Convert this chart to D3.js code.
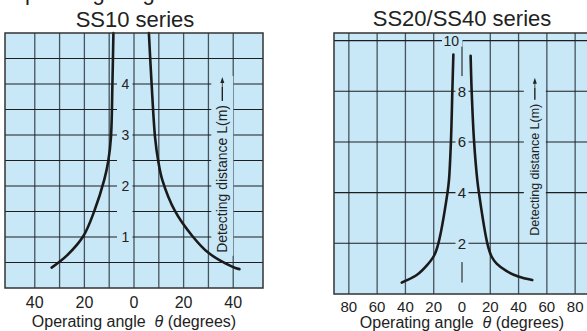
<!DOCTYPE html>
<html>
<head>
<meta charset="utf-8">
<script src="https://cdn.jsdelivr.net/npm/d3@7"></script>
<style>
body { margin: 0; background: #fff; }
text { font-family: "Liberation Sans", Arial, sans-serif; fill: #222; }
</style>
</head>
<body>
<div id="chart"></div>
<script>
// SS10 series
const ss10AngleTicks = [-40, -20, 0, 20, 40];
const ss10GridX = [-40, -30, -20, -10, 0, 10, 20, 30, 40];
const ss10GridY = [0.5, 1, 1.5, 2, 2.5, 3, 3.5, 4, 4.5];
const ss10DistLabels = [1, 2, 3, 4];
const ss10LeftAngle = [-8.3, -8.7, -9.3, -10.4, -12.0, -16.0, -20.4, -27, -33.2];
const ss10LeftDist = [5.0, 4.0, 2.95, 2.48, 2.12, 1.51, 1.02, 0.64, 0.40];
const ss10RightAngle = [6.0, 7.1, 8.5, 9.8, 11.4, 16.5, 23.5, 30, 40, 42.5];
const ss10RightDist = [5.0, 4.0, 2.95, 2.48, 2.12, 1.51, 1.02, 0.69, 0.41, 0.37];

// SS20/SS40 series
const ss40AngleTicks = [-80, -60, -40, -20, 0, 20, 40, 60, 80];
const ss40GridX = [-80, -60, -40, -20, 20, 40, 60, 80];
const ss40GridY = [2, 4, 6, 8, 10];
const ss40DistLabels = [2, 4, 6, 8];
const ss40LeftAngle = [-6.1, -6.8, -7.8, -9.2, -10.3, -16.7, -19.8, -25, -32, -42.6];
const ss40LeftDist = [9.45, 8.06, 6.05, 4.5, 3.98, 2.0, 1.51, 1.12, 0.75, 0.45];
const ss40RightAngle = [6.1, 6.8, 8.5, 10.8, 12.0, 17.9, 21, 24.5, 31.6, 39.8, 49.7];
const ss40RightDist = [9.4, 8.06, 6.05, 4.5, 3.98, 2.0, 1.47, 1.2, 0.9, 0.69, 0.55];

const W = 587, H = 331;
const bg = "#c8e8f8";

const svg = d3.select("#chart").append("svg")
  .attr("width", W)
  .attr("height", H);

// heading above the charts, cut off by the top edge as in the source
svg.append("text")
  .attr("x", 8)
  .attr("y", 0)
  .attr("font-size", "22px")
  .text("Operating range");

const x1 = d3.scaleLinear().domain([-52, 52]).range([5, 263]);
const y1 = d3.scaleLinear().domain([0, 5]).range([288, 33]);
const x2 = d3.scaleLinear().domain([-90.5, 90.5]).range([334, 590]);
const y2 = d3.scaleLinear().domain([0, 10.3]).range([294, 33]);

function panel(x, y) {
  const g = svg.append("g");
  g.append("rect")
    .attr("x", x.range()[0]).attr("y", y.range()[1])
    .attr("width", x.range()[1] - x.range()[0])
    .attr("height", y.range()[0] - y.range()[1])
    .attr("fill", bg);
  return g;
}

function gridV(g, x, y, vals) {
  g.selectAll(null).data(vals).enter().append("line")
    .attr("x1", d => x(d)).attr("x2", d => x(d))
    .attr("y1", y.range()[1]).attr("y2", y.range()[0])
    .attr("stroke", "#46525c").attr("stroke-width", 1.3);
}

function gridH(g, x, y, vals) {
  g.selectAll(null).data(vals).enter().append("line")
    .attr("x1", x.range()[0]).attr("x2", x.range()[1])
    .attr("y1", d => y(d)).attr("y2", d => y(d))
    .attr("stroke", "#1e1e1e").attr("stroke-width", 1.1);
}

function halo(g, xa, xb, ya, yb) {
  g.append("rect")
    .attr("x", Math.min(xa, xb)).attr("y", Math.min(ya, yb))
    .attr("width", Math.abs(xb - xa)).attr("height", Math.abs(yb - ya))
    .attr("fill", bg);
}

function curve(g, x, y, angles, dists) {
  const pts = angles.map((a, i) => [a, dists[i]]);
  g.append("path")
    .datum(pts)
    .attr("fill", "none")
    .attr("stroke", "#1a1a1a")
    .attr("stroke-width", 2.6)
    .attr("stroke-linecap", "round")
    .attr("d", d3.line().x(d => x(d[0])).y(d => y(d[1])).curve(d3.curveCatmullRom.alpha(0.5)));
}

function vLabel(g, cx, yBottom, size, dashLen) {
  const lab = g.append("g").attr("transform", `translate(${cx},${yBottom}) rotate(-90)`);
  const hb = lab.append("rect").attr("fill", bg);
  const t = lab.append("text")
    .attr("x", 0).attr("y", 0)
    .attr("dy", "0.35em")
    .attr("font-size", size + "px")
    .text("Detecting distance  L(m)");
  const len = t.node().getComputedTextLength();
  lab.append("line")
    .attr("x1", len + 4).attr("x2", len + 4 + dashLen)
    .attr("y1", 0).attr("y2", 0)
    .attr("stroke", "#222").attr("stroke-width", 1.4);
  lab.append("line")
    .attr("x1", len + 4 + dashLen).attr("x2", len + 4 + dashLen + 6)
    .attr("y1", 0).attr("y2", 0)
    .attr("stroke", "#222").attr("stroke-width", 0.8);
  lab.append("path")
    .attr("d", `M${len + 10 + dashLen + 4},0 l-6,-2 l0,4 z`)
    .attr("fill", "#222");
  hb.attr("x", -3).attr("y", -11)
    .attr("width", len + dashLen + 18).attr("height", 22);
}

function border(g, x, y) {
  g.append("rect")
    .attr("x", x.range()[0]).attr("y", y.range()[1])
    .attr("width", x.range()[1] - x.range()[0])
    .attr("height", y.range()[0] - y.range()[1])
    .attr("fill", "none")
    .attr("stroke", "#333").attr("stroke-width", 1.5);
}

// ---------- SS10 ----------
const g1 = panel(x1, y1);
gridV(g1, x1, y1, ss10GridX);
gridH(g1, x1, y1, ss10GridY);
halo(g1, x1(0) - 17, x1(0) - 1.5, y1(4.3), y1(0.75));

g1.selectAll(null).data(ss10DistLabels).enter().append("text")
  .attr("x", x1(0) - 8.5).attr("y", d => y1(d))
  .attr("dy", "0.36em")
  .attr("text-anchor", "middle")
  .attr("font-size", "14px")
  .text(d => d);

vLabel(g1, x1(35.6), y1(0.69), 14, 14);
curve(g1, x1, y1, ss10LeftAngle, ss10LeftDist);
curve(g1, x1, y1, ss10RightAngle, ss10RightDist);
border(g1, x1, y1);

g1.selectAll(null).data(ss10AngleTicks).enter().append("text")
  .attr("x", d => x1(d)).attr("y", 308)
  .attr("text-anchor", "middle")
  .attr("font-size", "16px")
  .text(d => Math.abs(d));

g1.append("text")
  .attr("x", x1(0)).attr("y", 327)
  .attr("text-anchor", "middle")
  .attr("font-size", "16px")
  .html('Operating angle&#160;&#160;<tspan font-style="italic">θ</tspan> (degrees)');

g1.append("text")
  .attr("x", x1(0) + 1).attr("y", 27)
  .attr("text-anchor", "middle")
  .attr("font-size", "22px")
  .text("SS10 series");

// ---------- SS20/SS40 ----------
const g2 = panel(x2, y2);
gridV(g2, x2, y2, ss40GridX);
gridH(g2, x2, y2, ss40GridY);

// centre line, partly hidden behind the label column
g2.append("line")
  .attr("x1", x2(0)).attr("x2", x2(0))
  .attr("y1", y2(10)).attr("y2", y2(0.45))
  .attr("stroke", "#222").attr("stroke-width", 1.1);
halo(g2, x2(0) - 6.5, x2(0) + 6.5, y2(8.6), y2(1.26));
halo(g2, x2(0) - 20, x2(0) + 0.5, y2(10) - 6, y2(10) + 6);

g2.selectAll(null).data(ss40DistLabels).enter().append("text")
  .attr("x", x2(0)).attr("y", d => y2(d))
  .attr("dy", "0.36em")
  .attr("text-anchor", "middle")
  .attr("font-size", "15px")
  .text(d => d);

g2.append("text")
  .attr("x", x2(0) - 3).attr("y", y2(10))
  .attr("dy", "0.36em")
  .attr("text-anchor", "end")
  .attr("font-size", "14px")
  .text(10);

vLabel(g2, x2(51.5), y2(2.3), 12.5, 12);
curve(g2, x2, y2, ss40LeftAngle, ss40LeftDist);
curve(g2, x2, y2, ss40RightAngle, ss40RightDist);
border(g2, x2, y2);

g2.selectAll(null).data(ss40AngleTicks).enter().append("text")
  .attr("x", d => x2(d)).attr("y", 312)
  .attr("text-anchor", "middle")
  .attr("font-size", "15px")
  .text(d => Math.abs(d));

g2.append("text")
  .attr("x", x2(0)).attr("y", 328)
  .attr("text-anchor", "middle")
  .attr("font-size", "16px")
  .html('Operating angle&#160;&#160;<tspan font-style="italic">θ</tspan> (degrees)');

g2.append("text")
  .attr("x", x2(0)).attr("y", 26)
  .attr("text-anchor", "middle")
  .attr("font-size", "22px")
  .text("SS20/SS40 series");
</script>
</body>
</html>
